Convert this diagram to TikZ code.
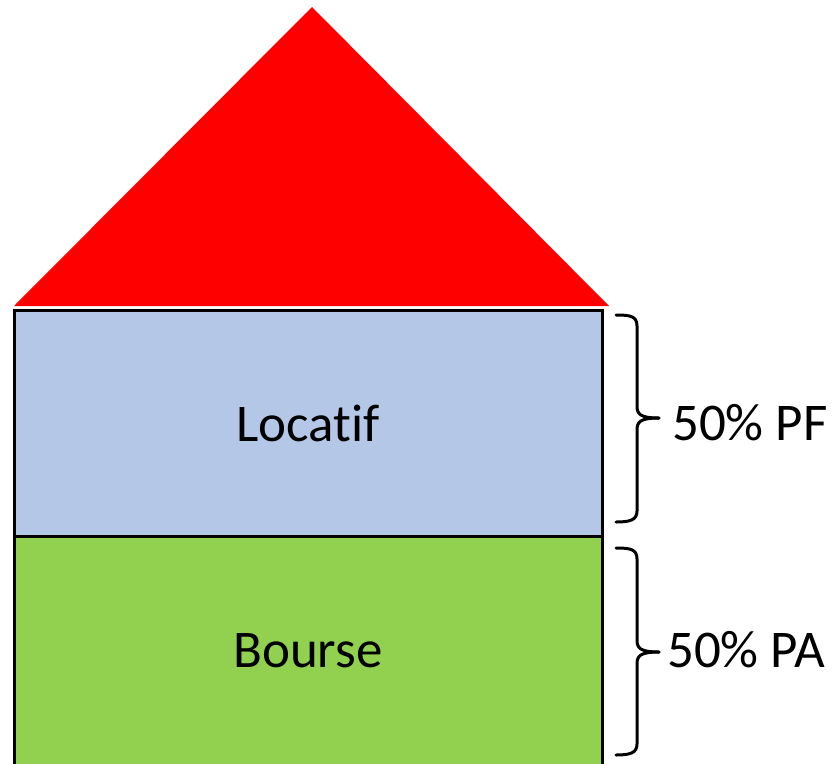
\documentclass[tikz,border=0pt]{standalone}
\usepackage{fontspec}
\setmainfont[RawFeature={-liga}]{Carlito}
\definecolor{roofred}{HTML}{FF0000}
\definecolor{locblue}{HTML}{B4C7E7}
\definecolor{bourgreen}{HTML}{92D050}
\tikzset{
  floorbox/.style={draw=black, line width=3pt, minimum width=588pt, inner sep=0pt, outer sep=0pt, font=\fontsize{53}{60}\selectfont},
  bracepath/.style={draw=black, line width=3pt, line cap=round, line join=round},
  sharelabel/.style={anchor=base west, inner sep=0pt, font=\fontsize{53}{60}\selectfont}
}
\begin{document}
\begin{tikzpicture}[x=1pt,y=-1pt]
\useasboundingbox (0,0) rectangle (834,763);
% roof
\fill[roofred] (14,306) -- (312,7) -- (609,306) -- cycle;
% floors
\node[floorbox, fill=locblue, minimum height=226pt] (loc) at (308,423) {Locatif};
\node[floorbox, fill=bourgreen, minimum height=229pt, anchor=north] (bou) at (loc.south) {Bourse};
% braces
\coordinate (b1tip) at (659,418);
\coordinate (b2tip) at (659,652);
\draw[bracepath] (616,315) .. controls (630,315) and (637,316) .. (637,326) -- (637,406)
  .. controls (637,414) and (640,418) .. (b1tip);
\draw[bracepath] (b1tip) .. controls (640,418) and (637,422) .. (637,430) -- (637,511)
  .. controls (637,520) and (630,522) .. (616,522);
\draw[bracepath] (616,548) .. controls (630,548) and (637,549) .. (637,559) -- (637,640)
  .. controls (637,648) and (640,652) .. (b2tip);
\draw[bracepath] (b2tip) .. controls (640,652) and (637,656) .. (637,664) -- (637,744)
  .. controls (637,753) and (630,755) .. (616,755);
% labels
\node[sharelabel] (pf) at (672,440) {50\% PF};
\node[sharelabel] (pa) at (667,667) {50\% PA};
\end{tikzpicture}
\end{document}
